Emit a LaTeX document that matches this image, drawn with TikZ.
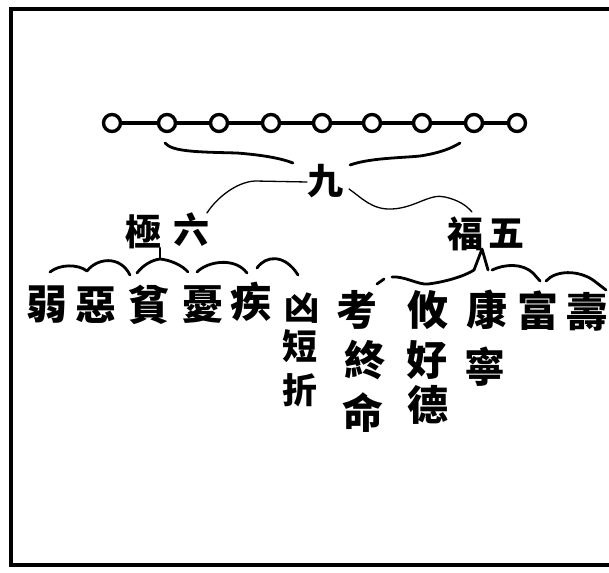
\documentclass[tikz,border=0pt]{standalone}
\usepackage{fontspec}
\newfontfamily\cjk{Noto Sans CJK TC}
\begin{document}
\begin{tikzpicture}[x=1pt,y=-1pt,
  bead/.style={circle,draw,line width=3.4pt,minimum size=17pt,inner sep=0pt,fill=white},
  link/.style={line width=3.4pt},
  hz/.style={font=\cjk\bfseries\fontsize{36}{36}\selectfont,inner sep=0pt},
  item/.style={font=\cjk\bfseries\fontsize{41}{41}\selectfont,inner sep=0pt},
  small/.style={font=\cjk\bfseries\fontsize{35}{35}\selectfont,inner sep=0pt},
  brush/.style={line width=2.8pt,line cap=round,line join=round},
  fine/.style={line width=1.3pt,line cap=round,line join=round}]
\useasboundingbox (0,0) rectangle (609,572);
\fill[white] (0,0) rectangle (609,572);
\draw[line width=4pt] (609,9.2) -- (10.5,9.2) -- (10.5,564.5) -- (609,564.5);
% chain of nine beads
\foreach \x [count=\i] in {112,167,219,271,322,372,422,474,517}
  \node[bead] (b\i) at (\x,123) {};
\foreach \i [remember=\i as \last (initially 1)] in {2,...,9}
  \draw[link] (b\last) -- (b\i);
% texts
\node[hz] (nine) at (325,181) {九};
\node[hz] (ji) at (143,232) {極};
\node[hz] (liu) at (191,230) {六};
\node[hz] (fu) at (465,234) {福};
\node[hz] (wu) at (506,234) {五};
\node[item] (ruo) at (47,305) {弱};
\node[item] (e) at (96,305) {惡};
\node[item] (pin) at (149,305) {貧};
\node[item] (you) at (203,305) {憂};
\node[item] (ji2) at (251,302) {疾};
\node[small] (xiong) at (302,308) {凶};
\node[small] (duan) at (300,346) {短};
\node[small] (zhe) at (300,390) {折};
\node[item] (kao) at (357,310) {考};
\node[item] (zhong) at (365,360) {終};
\node[item] (ming) at (363,413) {命};
\node[item] (youx) at (428,310) {攸};
\node[item] (hao) at (427,360) {好};
\node[item] (de) at (428,405) {德};
\node[item] (kang) at (487,310) {康};
\node[item] (ning) at (485,367) {寧};
\node[item] (fu2) at (538,311) {富};
\node[item] (shou) at (587,312) {壽};
% braces under the chain
\coordinate (tl1) at (165,143);
\coordinate (tl2) at (293,163);
\coordinate (tr1) at (350,165);
\coordinate (tr2) at (460,143);
\draw[brush] (tl1) .. controls (172,152) and (200,152) .. (237,153)
  .. controls (262,155) and (280,158) .. (tl2);
\draw[brush] (tr1) .. controls (370,158) and (400,158) .. (420,156)
  .. controls (440,153) and (452,148) .. (tr2);
% lines from nine
\coordinate (nl) at (307,182);
\coordinate (nl2) at (207,213);
\coordinate (nr) at (349,189);
\coordinate (nr2) at (472,212);
\draw[fine] (nl) -- (255,181) .. controls (235,182) and (215,200) .. (nl2);
\draw[fine] (nr) .. controls (362,198) and (372,210) .. (392,209)
  .. controls (415,208) and (430,193) .. (445,197)
  .. controls (458,200) and (466,205) .. (nr2);
% scalloped brace under six extremes
\coordinate (ls) at (160,248);
\draw[brush] (50,272) .. controls (60,264) and (78,264) .. (87,271)
  .. controls (97,258) and (120,255) .. (130,275);
\draw[brush] (137,273) .. controls (143,265) and (152,260) .. (160,259)
  .. controls (170,260) and (182,265) .. (188,272);
\draw[brush] (160,259) -- (ls);
\draw[brush] (197,272) .. controls (208,261) and (235,257) .. (247,273);
\draw[brush] (257,268) .. controls (266,255) and (285,254) .. (298,275);
% brace under five blessings
\coordinate (rs) at (482,249);
\draw[brush] (377,284) -- (384,279);
\draw[brush] (392,277) .. controls (405,276) and (418,285) .. (428,284)
  .. controls (445,282) and (465,276) .. (474,270) -- (rs) -- (488,270);
\draw[brush] (492,270) .. controls (505,264) and (522,263) .. (533,273) -- (540,281);
\draw[brush] (546,281) .. controls (556,270) and (578,270) .. (593,280) -- (606,290);
\end{tikzpicture}
\end{document}
